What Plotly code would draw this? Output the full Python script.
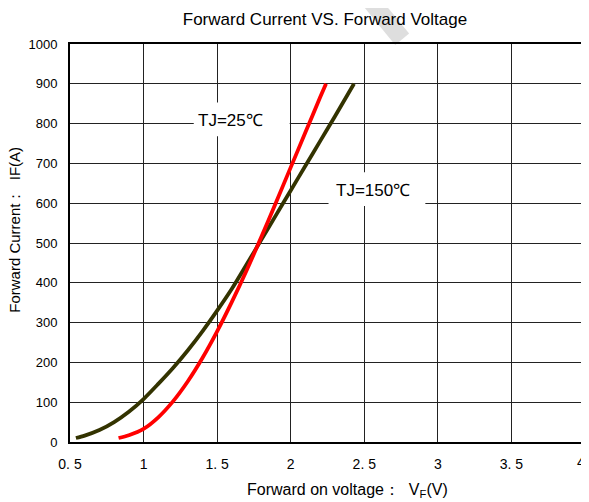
import plotly.graph_objects as go

# TJ=150°C curve
vf_150 = [0.54, 0.6, 0.7, 0.8, 0.9, 1.0, 1.1, 1.2, 1.3, 1.4, 1.5, 1.6, 1.7, 1.8, 1.9, 2.0, 2.1, 2.2, 2.3, 2.43]
if_150 = [10, 16, 30, 50, 76, 108, 146, 186, 230, 278, 330, 385, 446, 508, 570, 632, 694, 756, 818, 900]
# TJ=25°C curve
vf_25 = [0.83, 0.9, 1.0, 1.1, 1.2, 1.3, 1.4, 1.5, 1.6, 1.7, 1.8, 1.9, 2.0, 2.1, 2.2, 2.24]
if_25 = [10, 17, 33, 62, 102, 152, 211, 278, 352, 431, 515, 602, 690, 778, 866, 900]

x_ticks = [0.5, 1, 1.5, 2, 2.5, 3, 3.5, 4]
x_tick_text = ["0. 5", "1", "1. 5", "2", "2. 5", "3", "3. 5", "4"]
y_ticks = [0, 100, 200, 300, 400, 500, 600, 700, 800, 900, 1000]

FONT = "Liberation Sans, Arial, sans-serif"

fig = go.Figure()
fig.add_trace(go.Scatter(x=vf_150, y=if_150, mode="lines",
                         line=dict(color="#333300", width=3.8, shape="spline", smoothing=0.8),
                         name="TJ=150℃", showlegend=False))
fig.add_trace(go.Scatter(x=vf_25, y=if_25, mode="lines",
                         line=dict(color="#ff0000", width=3.8, shape="spline", smoothing=0.8),
                         name="TJ=25℃", showlegend=False))

# white label boxes
fig.add_shape(type="rect", x0=1.341, x1=1.993, y0=768, y1=853, fillcolor="white",
              line=dict(width=0), layer="above")
fig.add_shape(type="rect", x0=2.257, x1=2.915, y0=593, y1=678, fillcolor="white",
              line=dict(width=0), layer="above")
fig.add_annotation(x=1.592, y=808, text="TJ=25℃", showarrow=False,
                   font=dict(size=17, color="black", family=FONT))
fig.add_annotation(x=2.556, y=633, text="TJ=150℃", showarrow=False,
                   font=dict(size=17, color="black", family=FONT))

# last x tick label (at the div edge, drawn as annotation so it is not dropped)
fig.add_annotation(x=x_ticks[-1], xref="x", yref="paper", y=-0.05, text=x_tick_text[-1],
                   showarrow=False, xanchor="right", yanchor="middle", xshift=1, borderpad=0,
                   font=dict(size=14, color="black", family=FONT))

# axis titles
fig.add_annotation(xref="paper", yref="paper", x=0.538, y=-0.121, xanchor="center", yanchor="middle",
                   text="Forward on voltage：  V<sub>F</sub>(V)", showarrow=False,
                   font=dict(size=16, color="black", family=FONT))
fig.add_annotation(xref="paper", yref="paper", x=-0.107, y=0.533, xanchor="center", yanchor="middle",
                   text="Forward Current：  IF(A)", showarrow=False, textangle=-90,
                   font=dict(size=15, color="black", family=FONT))

# watermark stroke
fig.add_shape(type="line", xref="paper", yref="paper", x0=0.57, y0=1.13, x1=0.645, y1=1.012,
              line=dict(color="rgba(200,200,200,0.6)", width=18), layer="below")

fig.update_layout(
    width=581, height=494,
    margin=dict(l=62, r=4, t=36, b=60),
    paper_bgcolor="white", plot_bgcolor="white",
    font=dict(family=FONT, size=13, color="black"),
    title=dict(text="Forward Current VS. Forward Voltage", x=0.5456, xanchor="center", y=0.978, yanchor="middle",
               font=dict(size=17, family=FONT, color="black")),
    xaxis=dict(range=[0.5, 4], tickvals=x_ticks[:-1], ticktext=x_tick_text[:-1], showgrid=True,
               gridcolor="#222222", gridwidth=1, showline=True, linecolor="black", linewidth=2, mirror=True,
               zeroline=False, ticks="", tickfont=dict(size=14), fixedrange=True, automargin=False,
               ticklabelstandoff=8),
    yaxis=dict(range=[0, 1000], tickvals=y_ticks, showgrid=True, gridcolor="#222222", gridwidth=1,
               showline=True, linecolor="black", linewidth=2, mirror=True, zeroline=False,
               ticks="", tickfont=dict(size=13), fixedrange=True, automargin=False,
               ticklabelstandoff=8),
)

fig.write_html("out.html")
